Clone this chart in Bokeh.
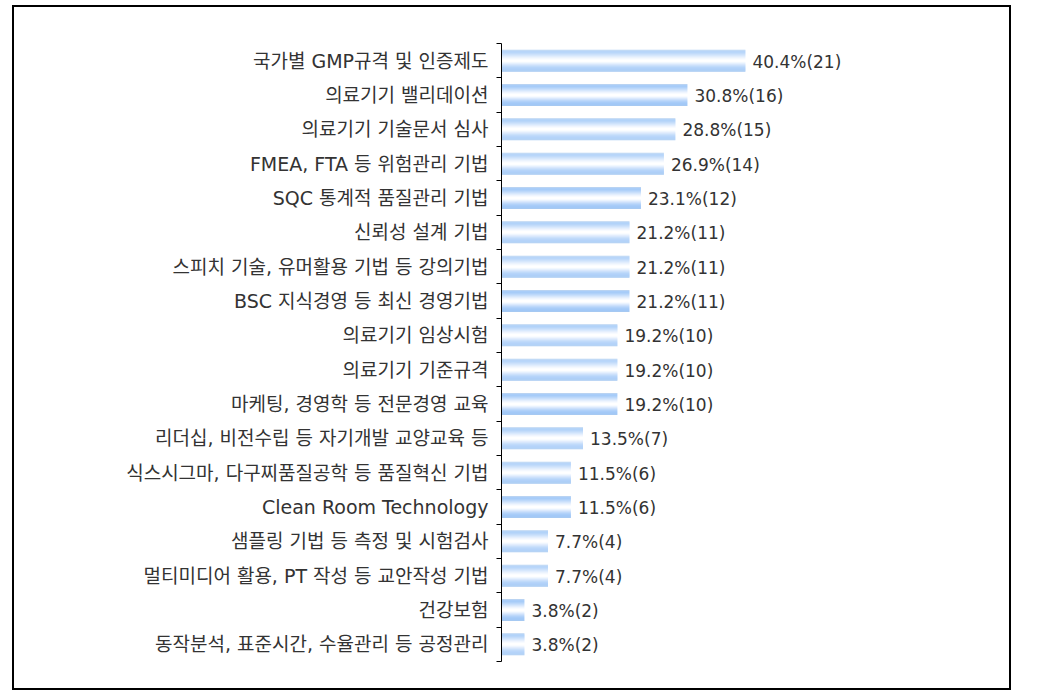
from bokeh.plotting import figure
from bokeh.models import ColumnDataSource, Range1d, FixedTicker
from bokeh.transform import dodge
from bokeh.core.properties import value
from bokeh.embed import file_html
from bokeh.resources import INLINE

categories = [
    "국가별 GMP규격 및 인증제도",
    "의료기기 밸리데이션",
    "의료기기 기술문서 심사",
    "FMEA, FTA 등 위험관리 기법",
    "SQC 통계적 품질관리 기법",
    "신뢰성 설계 기법",
    "스피치 기술, 유머활용 기법 등 강의기법",
    "BSC 지식경영 등 최신 경영기법",
    "의료기기 임상시험",
    "의료기기 기준규격",
    "마케팅, 경영학 등 전문경영 교육",
    "리더십, 비전수립 등 자기개발 교양교육 등",
    "식스시그마, 다구찌품질공학 등 품질혁신 기법",
    "Clean Room Technology",
    "샘플링 기법 등 측정 및 시험검사",
    "멀티미디어 활용, PT 작성 등 교안작성 기법",
    "건강보험",
    "동작분석, 표준시간, 수율관리 등 공정관리",
]
percents = [40.4, 30.8, 28.8, 26.9, 23.1, 21.2, 21.2, 21.2, 19.2, 19.2, 19.2,
            13.5, 11.5, 11.5, 7.7, 7.7, 3.8, 3.8]
counts = [21, 16, 15, 14, 12, 11, 11, 11, 10, 10, 10, 7, 6, 6, 4, 4, 2, 2]

n = len(categories)
positions = list(range(n))
value_labels = [f"{p}%({c})" for p, c in zip(percents, counts)]

src = ColumnDataSource(dict(y=positions, x=percents, lab=value_labels))

FONT = "DejaVu Sans, Noto Sans CJK KR"

W, H = 999, 685
p = figure(width=W, height=H, output_backend="svg", toolbar_location=None,
           x_range=Range1d(0, 80), y_range=Range1d(n - 0.5, -0.5),
           x_axis_location=None, min_border_left=487, min_border_right=29,
           min_border_top=36, min_border_bottom=31)
p.styles = {"border": "2px solid black", "margin": "5px 0px 0px 12px"}
p.outline_line_color = None
p.grid.visible = False
p.background_fill_color = "white"
p.border_fill_color = "white"

# gradient bar made of thin horizontal strips (top -> bottom)
grad = ["#b9d3f2", "#a9cdf9", "#a7ccf8", "#b0d1f9", "#bcd8fa", "#c9dffb",
        "#d6e7fc", "#e3eefd", "#eff5fe", "#f8fbff", "#ffffff", "#ffffff",
        "#f8fbff", "#eaf3fe", "#dbe9fd", "#cce0fb", "#bdd8fa", "#b1d1f9",
        "#a8ccf8", "#a3c9f7", "#a2c8f6", "#a6c9f2"]
bar_h = 0.64
k = len(grad)
sh = bar_h / k
for i, col in enumerate(grad):
    off = -bar_h / 2 + sh * (i + 0.5)
    p.hbar(y=dodge("y", off, range=p.y_range), right="x", left=0, height=sh * 1.08,
           source=src, fill_color=col, line_color=None)

p.text(x="x", y="y", text="lab", source=src, x_offset=7, y_offset=1,
       text_baseline="middle", text_align="left",
       text_font=value(FONT), text_font_size="17px",
       text_color="#333333")

ax = p.yaxis[0]
ax.ticker = FixedTicker(ticks=positions, minor_ticks=[i - 0.5 for i in range(n + 1)])
ax.major_label_overrides = {i: c for i, c in zip(positions, categories)}
ax.major_tick_out = 0
ax.major_tick_in = 0
ax.minor_tick_out = 5
ax.minor_tick_in = 0
ax.minor_tick_line_color = "black"
ax.axis_line_color = "black"
ax.axis_line_width = 1
ax.major_label_standoff = 8
ax.major_label_text_font = FONT
ax.major_label_text_font_size = "19px"
ax.major_label_text_color = "#333333"

open("out.html", "w").write(file_html(p, INLINE))
